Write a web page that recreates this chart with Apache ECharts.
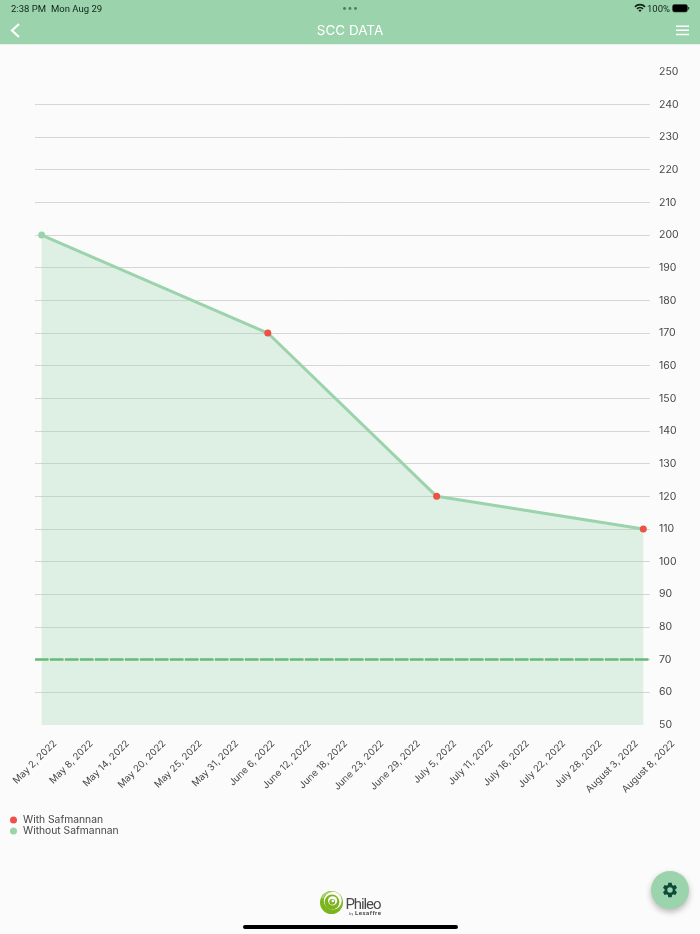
<!DOCTYPE html>
<html><head><meta charset="utf-8">
<script src="https://cdn.jsdelivr.net/npm/echarts@6/dist/echarts.min.js"></script>
<style>
html,body{margin:0;padding:0;width:700px;height:934px;overflow:hidden;background:#fbfbfb;font-family:Inter,sans-serif}
#hdr{position:absolute;left:0;top:0;width:700px;height:44px;background:#9bd3ac;border-bottom:1px solid #e6efe9;box-sizing:content-box}
#chart{position:absolute;left:0;top:0;width:700px;height:934px}
.st{position:absolute;top:3px;font:9.5px Roboto,sans-serif;color:#10241a;line-height:11px;white-space:nowrap}
.ov{position:absolute;pointer-events:none}
#fab{position:absolute;left:651px;top:871px;width:38px;height:38px;border-radius:50%;background:#9bd3ac;box-shadow:0 3px 6px rgba(0,0,0,.28)}
#home{position:absolute;left:243px;top:925px;width:215px;height:3.5px;border-radius:2px;background:#000}
</style></head><body>
<div id="hdr"></div>
<div id="chart"></div>
<div class="st" style="left:11px">2:38 PM</div>
<div class="st" style="left:51px">Mon Aug 29</div>
<div class="st" style="left:647px">100%</div>
<svg class="ov" style="left:340px;top:6px" width="20" height="5"><circle cx="4.5" cy="2.5" r="1.4" fill="#4e7c5d"/><circle cx="10" cy="2.5" r="1.4" fill="#4e7c5d"/><circle cx="15.5" cy="2.5" r="1.4" fill="#4e7c5d"/></svg>
<svg class="ov" style="left:634px;top:3px" width="12" height="10" viewBox="0 0 12 10"><path d="M0.3 3.2A8 8 0 0 1 11.7 3.2L10.5 4.4A6.3 6.3 0 0 0 1.5 4.4ZM2.4 5.3A5 5 0 0 1 9.6 5.3L8.4 6.5A3.3 3.3 0 0 0 3.6 6.5ZM4.5 7.4A2 2 0 0 1 7.5 7.4L6 9Z" fill="#10241a"/></svg>
<svg class="ov" style="left:672px;top:4px" width="18" height="9"><rect x=".5" y=".5" width="15" height="7.5" rx="2" fill="#000" stroke="#2a4a35" stroke-width=".6"/><rect x="16" y="3" width="1.2" height="2.6" fill="#2a4a35"/></svg>
<svg class="ov" style="left:8px;top:22px" width="14" height="17"><path d="M11 2L4 8.5L11 15" fill="none" stroke="#fff" stroke-width="2.2"/></svg>
<svg class="ov" style="left:676px;top:25px" width="14" height="11"><path d="M0 1.2H13M0 5.3H13M0 9.4H13" stroke="#fff" stroke-width="1.5"/></svg>
<svg class="ov" style="left:318px;top:890px" width="66" height="28" viewBox="0 0 66 28">
<circle cx="13.5" cy="12.5" r="11.5" fill="#7ab51d"/><circle cx="14.8" cy="10.6" r="9" fill="#fbfbfb"/><circle cx="14" cy="12" r="7.4" fill="#7ab51d"/><circle cx="14.6" cy="10.8" r="4.6" fill="#fbfbfb"/><circle cx="14.2" cy="11.8" r="2.9" fill="#7ab51d"/><circle cx="14.8" cy="11" r="1.3" fill="#fbfbfb"/><path d="M3 8A12 12 0 0 1 13 1L12.6 2.4A10 10 0 0 0 5 9Z" fill="#a9d06a"/>
<text x="27.5" y="18.5" font-family="Roboto,sans-serif" font-size="15" fill="#4a4a4a" textLength="36">Phileo</text>
<text x="31" y="24.8" font-family="Roboto,sans-serif" font-size="6" font-weight="700" fill="#4a4a4a" textLength="32"><tspan font-size="3.5" font-weight="400">by </tspan>Lesaffre</text></svg>
<div id="fab"><svg width="38" height="38" viewBox="0 0 38 38"><g transform="translate(10,10) scale(.75)"><path fill="#0e4a3c" d="M19.14 12.94c.04-.3.06-.61.06-.94s-.02-.64-.07-.94l2.03-1.58a.5.5 0 0 0 .12-.61l-1.92-3.32a.5.5 0 0 0-.59-.22l-2.39.96a7 7 0 0 0-1.62-.94l-.36-2.54a.5.5 0 0 0-.48-.41h-3.84a.5.5 0 0 0-.47.41l-.36 2.54c-.59.24-1.13.57-1.62.94l-2.39-.96a.5.5 0 0 0-.59.22L2.74 8.87a.5.5 0 0 0 .12.61l2.03 1.58c-.05.3-.09.63-.09.94s.02.64.07.94l-2.03 1.58a.5.5 0 0 0-.12.61l1.92 3.32c.12.22.37.29.59.22l2.39-.96c.5.38 1.03.7 1.62.94l.36 2.54c.05.24.24.41.48.41h3.84c.24 0 .44-.17.47-.41l.36-2.54c.59-.24 1.13-.56 1.62-.94l2.39.96c.22.08.47 0 .59-.22l1.92-3.32a.5.5 0 0 0-.12-.61zM12 15.6a3.6 3.6 0 1 1 0-7.2 3.6 3.6 0 0 1 0 7.2z"/></g></svg></div>
<div id="home"></div>
<script>
const chartTitle = 'SCC DATA';
const readingDates = ['2022-05-02T00:00Z', '2022-06-07T20:00Z', '2022-07-05T08:00Z', '2022-08-08T00:00Z'];
const readingValues = [200, 170, 120, 110];
const withSafmannan = [[readingDates[1], 170], [readingDates[2], 120], [readingDates[3], 110]];
const withoutSafmannan = [[readingDates[0], 200]];
const targetValue = 70;
const tickLabels = ['May 2, 2022','May 8, 2022','May 14, 2022','May 20, 2022','May 25, 2022','May 31, 2022','June 6, 2022','June 12, 2022','June 18, 2022','June 23, 2022','June 29, 2022','July 5, 2022','July 11, 2022','July 16, 2022','July 22, 2022','July 28, 2022','August 3, 2022','August 8, 2022'];

const DAY = 864e5;
const GREEN = '#9bd3ac', RED = '#ee5145', TXT = '#474747', FONT = 'Inter';
const chart = echarts.init(document.getElementById('chart'), null, {renderer:'canvas'});
chart.setOption({
  backgroundColor: 'transparent',
  animation: false,
  title: {text: chartTitle, left: 'center', top: 19, textStyle: {color:'#fff', fontFamily: FONT, fontSize: 13.5, fontWeight: 400}},
  legend: {
    orient: 'vertical', left: 5, top: 810, itemGap: 1, itemWidth: 7, itemHeight: 7,
    data: [{name:'With Safmannan', icon:'circle'}, {name:'Without Safmannan', icon:'circle'}],
    textStyle: {color: TXT, fontFamily: FONT, fontSize: 10.3, padding:[0,0,0,1]}
  },
  grid: [
    {left: 35, right: 50, top: 71.7, bottom: 934-725},
    {left: 55, right: 27, top: 71.7, bottom: 934-725}
  ],
  xAxis: [
    {type:'time', gridIndex:0, min: Date.parse(readingDates[0]) - 1.09*DAY, max: Date.parse(readingDates[3]) + 1.09*DAY,
     axisLine:{show:false}, axisTick:{show:false}, axisLabel:{show:false}, splitLine:{show:false}},
    {type:'category', gridIndex:1, boundaryGap:false, data: tickLabels, axisLine:{show:false}, axisTick:{show:false}, splitLine:{show:false},
     axisLabel:{show:true, interval:0, rotate:45, margin:17, hideOverlap:false, color:TXT, fontFamily:FONT, fontSize:9.6}}
  ],
  yAxis: [
    {type:'value', gridIndex:0, position:'right', min:50, max:250, interval:10,
     axisLine:{show:false}, axisTick:{show:false},
     axisLabel:{color:TXT, fontFamily:FONT, fontSize:10.5, margin:9, padding:[4,0,0,0]},
     splitLine:{show:true, showMinLine:false, showMaxLine:false, lineStyle:{color:'#d6d6d6', width:1}}},
    {type:'value', gridIndex:1, min:50, max:250, show:false}
  ],
  series: [
    {name:'SCC', type:'line', xAxisIndex:0, yAxisIndex:0, showSymbol:false, symbol:'none',
     data: readingDates.map((d,i)=>[d, readingValues[i]]),
     lineStyle:{color:GREEN, width:3}, itemStyle:{color:GREEN},
     areaStyle:{color:'rgba(155,211,172,0.3)', opacity:1, origin:'start'}, z:3,
     markLine:{silent:true, symbol:'none', label:{show:false}, data:[{yAxis:targetValue}],
       lineStyle:{color:'#68b978', type:[13.5,1.5], width:2.5, opacity:1}}},
    {name:'With Safmannan', type:'scatter', xAxisIndex:0, yAxisIndex:0, symbol:'circle', symbolSize:7, data:withSafmannan, itemStyle:{color:RED, opacity:1}, z:5},
    {name:'Without Safmannan', type:'scatter', xAxisIndex:0, yAxisIndex:0, symbol:'circle', symbolSize:7, data:withoutSafmannan, itemStyle:{color:GREEN, opacity:1}, z:5}
  ]
});
</script>
</body></html>
